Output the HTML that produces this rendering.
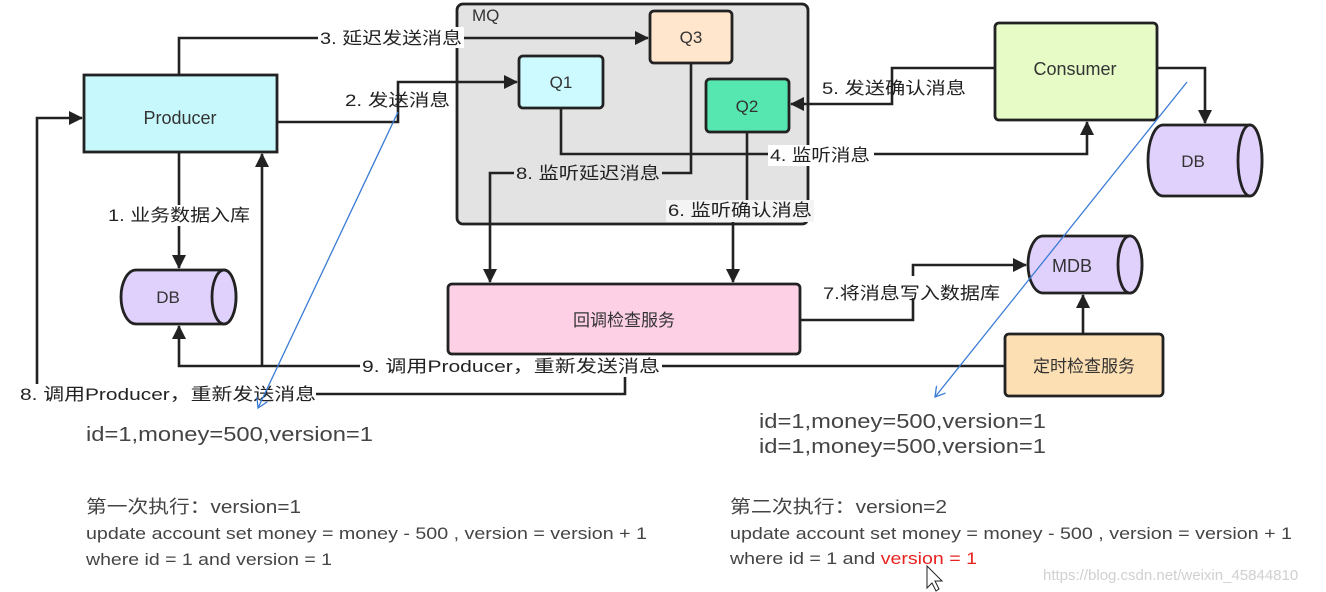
<!DOCTYPE html>
<html><head><meta charset="utf-8"><style>
html,body{margin:0;padding:0;background:#fff;}
svg{display:block;font-family:"Liberation Sans","Noto Sans CJK SC",sans-serif;}
</style></head><body>
<svg width="1326" height="592" viewBox="0 0 1326 592" xmlns="http://www.w3.org/2000/svg">
<defs>
<marker id="a" markerWidth="14" markerHeight="14" refX="13" refY="7" orient="auto" markerUnits="userSpaceOnUse"><path d="M0,0 L14,7 L0,14 Z" fill="#222"/></marker>
<marker id="b" markerWidth="12" markerHeight="12" refX="10" refY="6" orient="auto" markerUnits="userSpaceOnUse"><path d="M0,0 L10,6 L0,12" fill="none" stroke="#3a7bd5" stroke-width="1.3"/></marker>
</defs>
<g stroke="#222" stroke-width="2.8">
<rect x="457" y="4" width="351" height="220" rx="6" fill="#e3e3e3"/>
<rect x="650" y="11" width="82" height="52" rx="4" fill="#ffe6cc"/>
<rect x="519" y="56" width="84" height="52" rx="4" fill="#cdfaff"/>
<rect x="706" y="79" width="83" height="53" rx="4" fill="#56e6b0"/>
<rect x="84" y="75" width="193" height="77" fill="#c6f8fc"/>
<rect x="995" y="23" width="162" height="97" rx="4" fill="#e6fbc6"/>
<rect x="448" y="284" width="352" height="70" rx="4" fill="#fdd0e6"/>
<rect x="1005" y="334" width="158" height="62" rx="4" fill="#fddfb4"/>
<path d="M136,270 H224 A12,27 0 0 1 224,324 H136 A15,27 0 0 1 136,270 Z" fill="#e0d0fc"/>
<ellipse cx="224" cy="297" rx="12" ry="27" fill="#e0d0fc"/>
<path d="M1163,125 H1250 A12,35.5 0 0 1 1250,196 H1163 A15,35.5 0 0 1 1163,125 Z" fill="#e0d0fc"/>
<ellipse cx="1250" cy="160.5" rx="12" ry="35.5" fill="#e0d0fc"/>
<path d="M1043,236 H1130 A12,28.5 0 0 1 1130,293 H1043 A15,28.5 0 0 1 1043,236 Z" fill="#e0d0fc"/>
<ellipse cx="1130" cy="264.5" rx="12" ry="28.5" fill="#e0d0fc"/>
</g>
<g stroke="#222" stroke-width="2.6" fill="none">
<polyline points="179,75 179,38 648,38" marker-end="url(#a)"/>
<polyline points="277,122 398,122 398,82 517,82" marker-end="url(#a)"/>
<polyline points="179,152 179,268" marker-end="url(#a)"/>
<polyline points="37,390 37,118 82,118" marker-end="url(#a)"/>
<polyline points="262,366 262,154" marker-end="url(#a)"/>
<polyline points="1005,366 179,366 179,326" marker-end="url(#a)"/>
<polyline points="310,394 625,394 625,366"/>
<polyline points="561,108 561,154 1087,154 1087,122" marker-end="url(#a)"/>
<polyline points="691,63 691,173 490,173 490,282" marker-end="url(#a)"/>
<polyline points="747,132 747,200"/>
<polyline points="733,215 733,282" marker-end="url(#a)"/>
<polyline points="995,68 892,68 892,104 791,104" marker-end="url(#a)"/>
<polyline points="1157,68 1205,68 1205,123" marker-end="url(#a)"/>
<polyline points="800,320 913,320 913,265 1026,265" marker-end="url(#a)"/>
<polyline points="1083,334 1083,295" marker-end="url(#a)"/>
</g>
<g font-size="17" fill="#333">
<text x="472" y="21">MQ</text>
<text x="691" y="43" text-anchor="middle">Q3</text>
<text x="561" y="88" text-anchor="middle">Q1</text>
<text x="747" y="112" text-anchor="middle">Q2</text>
<text x="180" y="124" text-anchor="middle" font-size="18">Producer</text>
<text x="1075" y="75" text-anchor="middle" font-size="18">Consumer</text>
<text x="168" y="303" text-anchor="middle">DB</text>
<text x="1193" y="167" text-anchor="middle">DB</text>
<text x="1072" y="272" text-anchor="middle" font-size="18">MDB</text>
<text x="624" y="326" text-anchor="middle">回调检查服务</text>
<text x="1084" y="372" text-anchor="middle">定时检查服务</text>
</g>
<g font-size="17" fill="#222">
<rect x="318" y="27" width="146" height="21" fill="#fff"/>
<text x="320" y="44" textLength="142" lengthAdjust="spacingAndGlyphs">3. 延迟发送消息</text>
<text x="345" y="106" textLength="105" lengthAdjust="spacingAndGlyphs">2. 发送消息</text>
<rect x="104" y="205" width="150" height="21" fill="#fff"/>
<text x="108" y="221" textLength="142" lengthAdjust="spacingAndGlyphs">1. 业务数据入库</text>
<rect x="768" y="145" width="106" height="21" fill="#fff"/>
<text x="770" y="161" textLength="100" lengthAdjust="spacingAndGlyphs">4. 监听消息</text>
<rect x="514" y="163" width="148" height="21" fill="#e3e3e3"/>
<text x="516" y="179" textLength="144" lengthAdjust="spacingAndGlyphs">8. 监听延迟消息</text>
<rect x="666" y="200" width="148" height="22" fill="#f4f4f4"/>
<text x="668" y="216" textLength="144" lengthAdjust="spacingAndGlyphs">6. 监听确认消息</text>
<text x="822" y="94" textLength="144" lengthAdjust="spacingAndGlyphs">5. 发送确认消息</text>
<rect x="820" y="276" width="184" height="22" fill="#fff"/>
<text x="823" y="299" textLength="177" lengthAdjust="spacingAndGlyphs">7.将消息写入数据库</text>
<rect x="360" y="356" width="302" height="21" fill="#fff"/>
<text x="362" y="372" textLength="298" lengthAdjust="spacingAndGlyphs">9. 调用Producer，重新发送消息</text>
<rect x="18" y="384" width="298" height="21" fill="#fff"/>
<text x="20" y="400" textLength="296" lengthAdjust="spacingAndGlyphs">8. 调用Producer，重新发送消息</text>
</g>
<g stroke="#3a7bd5" stroke-width="1.3" fill="none">
<line x1="398" y1="112" x2="258" y2="408" marker-end="url(#b)"/>
<line x1="1187" y1="82" x2="935" y2="397" marker-end="url(#b)"/>
</g>
<g fill="#444">
<text x="86" y="441" font-size="20" textLength="287" lengthAdjust="spacingAndGlyphs">id=1,money=500,version=1</text>
<text x="759" y="428" font-size="20" textLength="287" lengthAdjust="spacingAndGlyphs">id=1,money=500,version=1</text>
<text x="759" y="453" font-size="20" textLength="287" lengthAdjust="spacingAndGlyphs">id=1,money=500,version=1</text>
<text x="86" y="513" font-size="18" textLength="215" lengthAdjust="spacingAndGlyphs">第一次执行：version=1</text>
<text x="86" y="539" font-size="17" textLength="561" lengthAdjust="spacingAndGlyphs">update account set money = money - 500 , version = version + 1</text>
<text x="86" y="565" font-size="17" textLength="246" lengthAdjust="spacingAndGlyphs">where id = 1 and version = 1</text>
<text x="730" y="513" font-size="18" textLength="217" lengthAdjust="spacingAndGlyphs">第二次执行：version=2</text>
<text x="730" y="539" font-size="17" textLength="562" lengthAdjust="spacingAndGlyphs">update account set money = money - 500 , version = version + 1</text>
<text x="730" y="564" font-size="17" textLength="247" lengthAdjust="spacingAndGlyphs">where id = 1 and <tspan fill="#e8231f">version = 1</tspan></text>
<text x="1043" y="580" font-size="15" fill="#d0d0d0">https://blog.csdn.net/weixin_45844810</text>
</g>
<path d="M927,566 L927,588 L932,583 L936,591 L939,589 L935,581 L942,581 Z" fill="#fff" stroke="#222" stroke-width="1"/>
</svg>
</body></html>
